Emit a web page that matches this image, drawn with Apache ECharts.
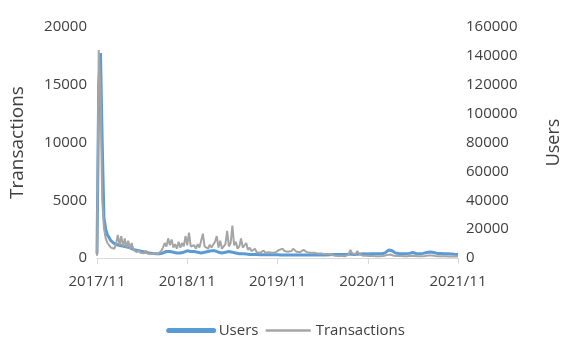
<!DOCTYPE html>
<html>
<head>
<meta charset="utf-8">
<script src="https://cdn.jsdelivr.net/npm/echarts@6/dist/echarts.min.js"></script>
<style>
  html, body { margin: 0; padding: 0; background: #ffffff; }
  #chart { width: 571px; height: 338px; }
</style>
</head>
<body>
<div id="chart"></div>
<script>
// Weekly observations, week 0 = start of 2017/11
const xTicks = ['2017/11', '2018/11', '2019/11', '2020/11', '2021/11'];
const weeksPerTick = 52;

const transactions = [
  200, 18000, 14500, 5000, 2600, 1700, 1300, 1100, 900, 1000,
  800, 1200, 2000, 1100, 1900, 1000, 1700, 900, 1500, 800,
  1300, 700, 600, 500, 700, 450, 550, 400, 650, 400,
  500, 350, 450, 400, 550, 350, 450, 600, 900, 1300,
  1000, 1700, 1100, 1600, 900, 1200, 800, 1400, 900, 1300,
  1000, 1900, 1100, 2200, 1000, 900, 1100, 800, 1200, 900,
  1500, 2100, 1000, 1100, 800, 1150, 900, 1000, 1400, 1900,
  900, 1500, 800, 1000, 1200, 2350, 1000, 1300, 2800, 1100,
  1400, 800, 1000, 1700, 900, 750, 1300, 700, 900, 600,
  700, 800, 500, 600, 450, 500, 650, 450, 550, 500,
  650, 450, 550, 500, 600, 700, 550, 800, 600, 750,
  550, 650, 600, 800, 650, 550, 600, 500, 600, 700,
  550, 500, 600, 450, 500, 450, 550, 400, 450, 400,
  450, 350, 400, 350, 300, 300, 250, 200, 150, 180,
  150, 170, 150, 160, 180, 300, 700, 400, 300, 350,
  600, 350, 250, 200, 150, 200, 150, 180, 150, 170,
  160, 150, 180, 160, 150, 170, 200, 250, 300, 300,
  250, 200, 200, 180, 160, 170, 150, 160, 170, 150,
  160, 200, 220, 180, 160, 150, 170, 160, 150, 170,
  200, 220, 240, 220, 200, 180, 160, 150, 170, 160,
  150, 160, 150, 140, 150, 140, 130, 140, 130
];

const users = [
  3000, 120000, 142000, 80000, 28000, 20000, 16000, 14000, 12000, 11000,
  10000, 9500, 9000, 8500, 8500, 8000, 8000, 7500, 7500, 7000,
  6500, 6000, 5500, 5000, 5000, 4500, 4500, 4000, 4000, 3800,
  3500, 3500, 3200, 3200, 3000, 3000, 3000, 3200, 3500, 4000,
  4500, 5000, 4500, 4500, 4000, 4000, 3500, 3500, 3500, 4000,
  4000, 4500, 5000, 5000, 4500, 5000, 4500, 4000, 4000, 3500,
  3500, 4000, 4000, 4500, 4500, 5000, 5000, 5500, 5000, 4500,
  4000, 4000, 3500, 3500, 4000, 4500, 4500, 4000, 4000, 3500,
  3500, 3000, 3000, 3000, 3000, 2800, 2800, 2800, 2500, 2500,
  2500, 2500, 2500, 2500, 2300, 2300, 2300, 2300, 2200, 2200,
  2200, 2200, 2200, 2200, 2200, 2000, 2000, 2000, 2000, 2000,
  2000, 2000, 2000, 2000, 2000, 2000, 2000, 2000, 2000, 2000,
  2000, 2000, 2000, 2000, 2000, 2000, 2000, 2000, 2000, 2000,
  2000, 2000, 2000, 2000, 2200, 2300, 2500, 2500, 2500, 2500,
  2500, 2500, 2500, 2500, 2500, 2500, 2800, 2600, 2500, 2500,
  2600, 2600, 2800, 3000, 3000, 3000, 2800, 2900, 3000, 3100,
  3000, 2900, 3000, 3100, 3000, 3200, 3500, 4500, 5500, 6000,
  5000, 4000, 3500, 3200, 3100, 3000, 3000, 2900, 3000, 3100,
  3200, 3500, 3800, 3300, 3000, 2900, 3000, 3100, 3200, 3400,
  3800, 4000, 4200, 4000, 3800, 3500, 3200, 3000, 3100, 3000,
  2900, 3000, 2900, 2800, 2800, 2700, 2600, 2600, 2500
];

const FONT = '"Open Sans", "Noto Sans", sans-serif';
const TEXT = '#404040';
const BLUE = '#5b9bd5';
const GREY = '#a5a5a5';

const toPairs = arr => arr.map((v, i) => [i, v]);
const plain = v => String(v);

const chart = echarts.init(document.getElementById('chart'), null, { renderer: 'canvas' });
chart.setOption({
  animation: false,
  backgroundColor: '#ffffff',
  textStyle: { fontFamily: FONT, color: TEXT },
  grid: { left: 95, right: 96, top: 27, bottom: 80, containLabel: false },
  legend: {
    top: 318,
    left: 'center',
    itemWidth: 45,
    itemHeight: 14,
    itemGap: 6,
    textStyle: { fontFamily: FONT, fontSize: 15, color: TEXT },
    data: [
      { name: 'Users', itemStyle: { opacity: 0 }, lineStyle: { width: 5, color: BLUE, cap: 'round' } },
      { name: 'Transactions', itemStyle: { opacity: 0 }, lineStyle: { width: 2.5, color: GREY } }
    ]
  },
  xAxis: {
    type: 'value',
    min: 0,
    max: weeksPerTick * (xTicks.length - 1),
    interval: weeksPerTick,
    axisLine: { show: true, lineStyle: { color: '#d9d9d9', width: 1 } },
    axisTick: { show: true, length: 6, lineStyle: { color: '#d9d9d9' } },
    splitLine: { show: false },
    axisLabel: {
      fontFamily: FONT, fontSize: 15, color: TEXT, margin: 16,
      formatter: v => xTicks[Math.round(v / weeksPerTick)] || ''
    }
  },
  yAxis: [
    {
      type: 'value',
      name: 'Transactions',
      nameLocation: 'middle',
      nameRotate: 90,
      nameGap: 70,
      nameTextStyle: { fontFamily: FONT, fontSize: 19, color: TEXT },
      min: 0, max: 20000, interval: 5000,
      axisLine: { show: false },
      axisTick: { show: false },
      splitLine: { show: false },
      axisLabel: { fontFamily: FONT, fontSize: 15, color: TEXT, margin: 10, formatter: plain }
    },
    {
      type: 'value',
      name: 'Users',
      nameLocation: 'middle',
      nameRotate: 90,
      nameGap: 87,
      nameTextStyle: { fontFamily: FONT, fontSize: 18, color: TEXT },
      min: 0, max: 160000, interval: 20000,
      axisLine: { show: false },
      axisTick: { show: false },
      splitLine: { show: false },
      axisLabel: { fontFamily: FONT, fontSize: 15, color: TEXT, margin: 8, formatter: plain }
    }
  ],
  series: [
    {
      name: 'Users',
      type: 'line',
      yAxisIndex: 1,
      data: toPairs(users),
      symbol: 'none',
      lineStyle: { color: BLUE, width: 3 },
      itemStyle: { color: BLUE }
    },
    {
      name: 'Transactions',
      type: 'line',
      yAxisIndex: 0,
      data: toPairs(transactions),
      symbol: 'none',
      lineStyle: { color: GREY, width: 2 },
      itemStyle: { color: GREY }
    }
  ]
});
</script>
</body>
</html>
